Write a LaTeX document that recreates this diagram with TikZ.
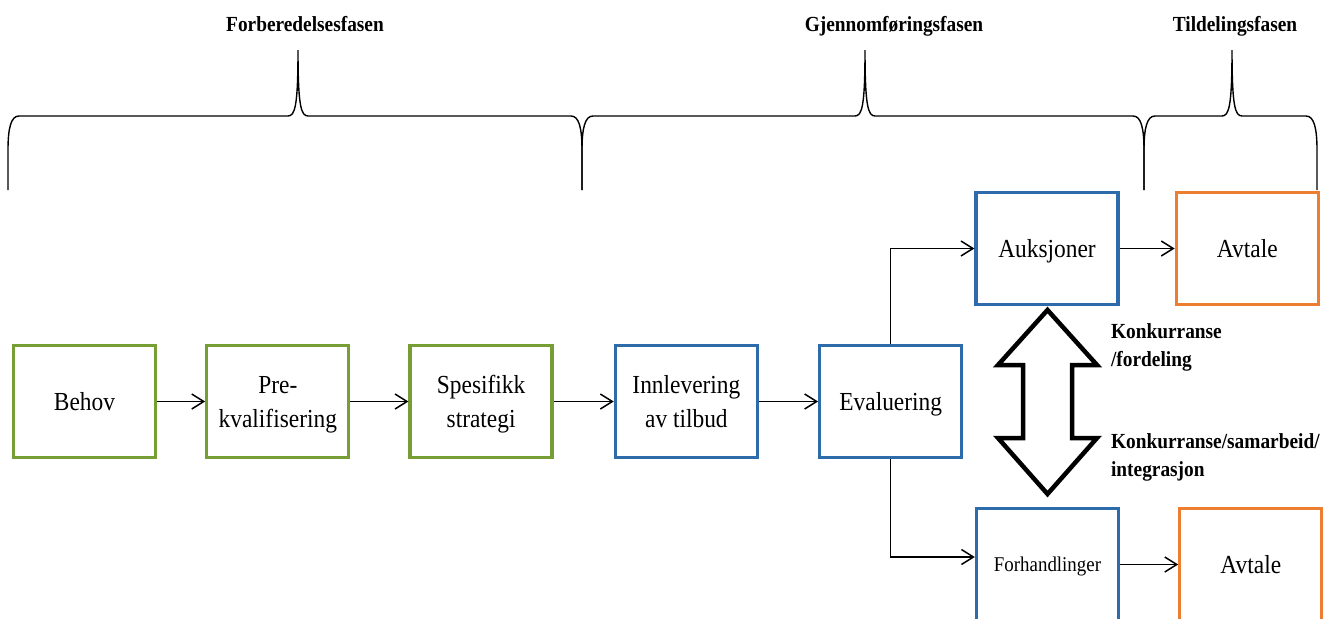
\documentclass[tikz,border=0pt]{standalone}
\usepackage{fontspec}
\setmainfont[FakeStretch=0.9]{Liberation Serif}
\usepackage{tikz}
\usetikzlibrary{positioning,arrows.meta}
\definecolor{phase-green}{RGB}{119,157,53}
\definecolor{phase-blue}{RGB}{46,107,170}
\definecolor{phase-orange}{RGB}{237,125,49}
\newcommand{\boxtext}{\fontsize{13}{17}\selectfont}
\newcommand{\smallboxtext}{\fontsize{10.5}{13}\selectfont}
\newcommand{\phasetext}{\fontsize{10.75}{14}\selectfont\bfseries}
\newcommand{\phasebrace}[3]{%
  \draw[line width=0.7pt] (#1,428) -- (#1,468) .. controls (#1,490) and (#1+3,502) .. (#1+11,502)
    -- (#3-10,502) .. controls (#3-3,502) and (#3,512) .. (#3,568)
    .. controls (#3,512) and (#3+3,502) .. (#3+10,502)
    -- (#2-11,502) .. controls (#2-3,502) and (#2,490) .. (#2,468) -- (#2,428);}
\tikzset{
  box/.style={draw, line width=1.65pt, minimum width=71pt, minimum height=56pt,
    align=center, font=\boxtext, inner sep=1pt, text depth=0pt},
  greenbox/.style={box, draw=phase-green},
  bluebox/.style={box, draw=phase-blue},
  orangebox/.style={box, draw=phase-orange},
  link/.style={line width=0.75pt, -{Straight Barb[length=6pt,width=7.5pt]}},
}

\begin{document}
\begin{tikzpicture}[x=0.5pt,y=0.5pt]
    \useasboundingbox (0,0) rectangle (1338,618);
    \clip (0,0) rectangle (1338,618);

    \node[greenbox] (behov) at (84.5,216.5) {Behov};
    \node[greenbox, right=48 of behov] (prekval) {Pre-\\kvalifisering};
    \node[greenbox, right=58 of prekval] (strategi) {Spesifikk\\strategi};
    \node[bluebox, right=60 of strategi] (innlev) {Innlevering\\av tilbud};
    \node[bluebox, right=59 of innlev] (eval) {Evaluering};

    \node[bluebox] (auks) at (1047,369.5) {Auksjoner};
    \node[orangebox, right=55 of auks] (avtale1) {Avtale};
    \node[bluebox, font=\smallboxtext] (forh) at (1047.5,53.5) {Forhandlinger};
    \node[orangebox, right=58 of forh] (avtale2) {Avtale};

    \draw[link] (behov) -- (prekval);
    \draw[link] (prekval) -- (strategi);
    \draw[link] (strategi) -- (innlev);
    \draw[link] (innlev) -- (eval);
    \draw[link] (eval.north) |- (auks.west);
    \draw[link] (eval.south) |- ([yshift=3.75pt]forh.west);
    \draw[link] (auks) -- (avtale1);
    \draw[link] (forh) -- (avtale2);

    \draw[line width=2.25pt, line join=miter]
      (1047.5,308) -- (1097,253) -- (1072,253) -- (1072,180) -- (1097,180)
      -- (1047.5,124) -- (998,180) -- (1023,180) -- (1023,253) -- (998,253) -- cycle;

    \node[anchor=west, align=left, font=\phasetext] (fordeling) at (1104,271) {Konkurranse\\/fordeling};
    \node[anchor=west, align=left, font=\phasetext] (samarbeid) at (1104,161) {Konkurranse/samarbeid/\\integrasjon};

    \phasebrace{8}{582}{298}
    \phasebrace{582}{1144}{865}
    \phasebrace{1144}{1317}{1232}

    \node[anchor=base, font=\phasetext] (forb) at (305,587) {Forberedelsesfasen};
    \node[anchor=base, font=\phasetext] (gjen) at (894,587) {Gjennomføringsfasen};
    \node[anchor=base, font=\phasetext] (tild) at (1235,587) {Tildelingsfasen};
\end{tikzpicture}
\end{document}
